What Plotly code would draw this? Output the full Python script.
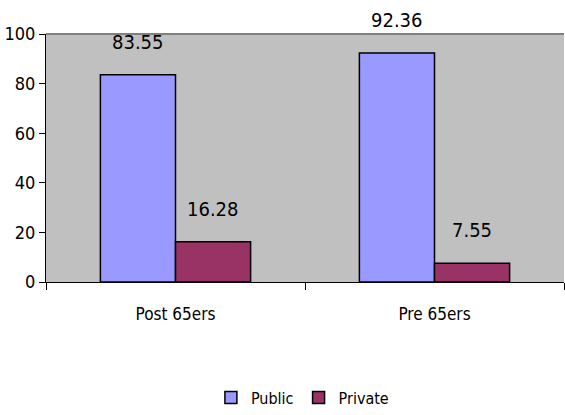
import plotly.graph_objects as go

categories = ["Post 65ers", "Pre 65ers"]
public = [83.55, 92.36]
private = [16.28, 7.55]
y_ticks = [0, 20, 40, 60, 80, 100]

FONT = "DejaVu Sans Condensed, Liberation Sans Narrow, sans-serif"

fig = go.Figure()
fig.add_trace(go.Bar(name="Public", x=categories, y=public,
                     marker=dict(color="#9999FF", line=dict(color="black", width=1.5))))
fig.add_trace(go.Bar(name="Private", x=categories, y=private,
                     marker=dict(color="#993366", line=dict(color="black", width=1.5))))

# value labels floating above each bar
bar_half = 0.29 * 259 / 2
for series, shift in ((public, -bar_half), (private, bar_half)):
    for cat, val in zip(categories, series):
        fig.add_annotation(x=cat, y=val, text=f"{val:.2f}", showarrow=False,
                           xshift=shift, yshift=33, yanchor="middle",
                           font=dict(family=FONT, size=20, color="black"))

fig.update_layout(
    width=565, height=415,
    margin=dict(l=46, r=1, t=34, b=131),
    paper_bgcolor="white", plot_bgcolor="#C0C0C0",
    barmode="group", bargap=0.42, bargroupgap=0,
    font=dict(family=FONT, size=17, color="black"),
    showlegend=True,
    legend=dict(orientation="h", x=0.495, xanchor="center", y=-0.466, yanchor="middle",
                font=dict(family=FONT, size=16), itemwidth=30, tracegroupgap=0),
)
fig.update_xaxes(type="category", tickson="boundaries", ticks="outside", ticklen=7,
                 tickcolor="black", showline=True, linecolor="black", linewidth=1,
                 showgrid=False, tickfont=dict(size=17), ticklabelstandoff=17)
fig.update_yaxes(range=[0, 100], tickvals=y_ticks, ticks="outside", ticklen=6,
                 tickcolor="black", showline=True, linecolor="black", linewidth=1,
                 showgrid=False, zeroline=False, tickfont=dict(size=18))
# grey frame along the top of the plotting area
fig.add_shape(type="line", xref="paper", yref="paper", x0=0, x1=1, y0=1, y1=1,
              line=dict(color="#808080", width=2))
fig.write_html("out.html")
